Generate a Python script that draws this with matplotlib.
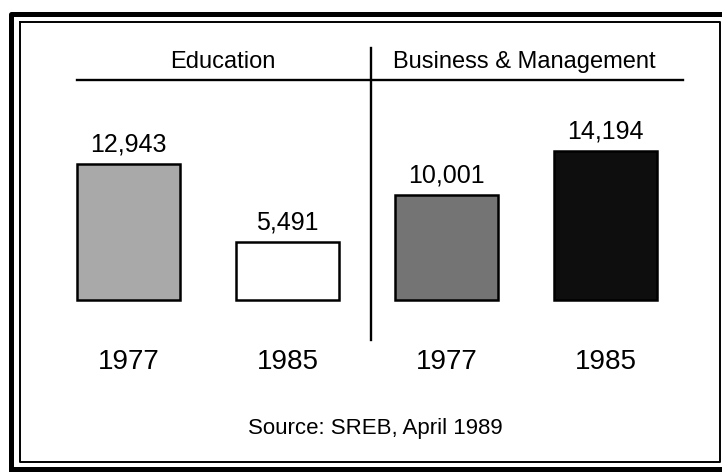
import matplotlib as mpl
import matplotlib.pyplot as plt

mpl.rcParams["font.family"] = ["Liberation Sans", "DejaVu Sans"]

# data
groups = ["Education", "Business & Management"]
years = ["1977", "1985", "1977", "1985"]
values = [12943, 5491, 10001, 14194]
value_labels = ["12,943", "5,491", "10,001", "14,194"]
source = "Source: SREB, April 1989"

fills = ["#a9a9a9", "white", "#747474", "#0e0e0e"]

W, H = 722, 472
fig = plt.figure(figsize=(W / 100, H / 100), dpi=100)

# background layer in pixel units for the frame and divider lines
bg = fig.add_axes([0, 0, 1, 1])
bg.set_xlim(0, W)
bg.set_ylim(H, 0)
bg.axis("off")

# double frame (outer thick, inner thin)
bg.plot([11, 11, 730], [469, 14, 14], color="black", lw=3.6, solid_capstyle="butt")
bg.plot([11, 730], [469, 469], color="black", lw=3.6)
bg.plot([20, 20, 720, 720, 20], [22, 462, 462, 22, 22], color="black", lw=1.4)

# header rule and group divider
bg.plot([77, 683], [80, 80], color="black", lw=1.7)
bg.plot([371, 371], [48, 340], color="black", lw=1.7)

# group headers
bg.text(223, 68, groups[0], ha="center", va="baseline", fontsize=17)
bg.text(524, 68, groups[1], ha="center", va="baseline", fontsize=17)

# source line
bg.text(375, 434, source, ha="center", va="baseline", fontsize=16)

# bar axes
scale = 0.0105  # px per unit
ymax = 17000
ax = fig.add_axes([49 / W, (H - 300) / H, 636 / W, ymax * scale / H])
ax.patch.set_alpha(0)
x = range(len(values))
bars = ax.bar(x, values, width=0.65, color=fills, edgecolor="black",
              linewidth=1.8, clip_on=False)
ax.set_xlim(-0.5, 3.5)
ax.set_ylim(0, ymax)
ax.axis("off")

for i, bar in enumerate(bars):
    ax.annotate(value_labels[i], (bar.get_x() + bar.get_width() / 2, bar.get_height()),
                xytext=(0, 9), textcoords="offset points",
                ha="center", va="baseline", fontsize=18)
    ax.annotate(years[i], (i, 0), xytext=(0, -50), textcoords="offset points",
                ha="center", va="baseline", fontsize=20)

fig.savefig("out.png", dpi=100)
